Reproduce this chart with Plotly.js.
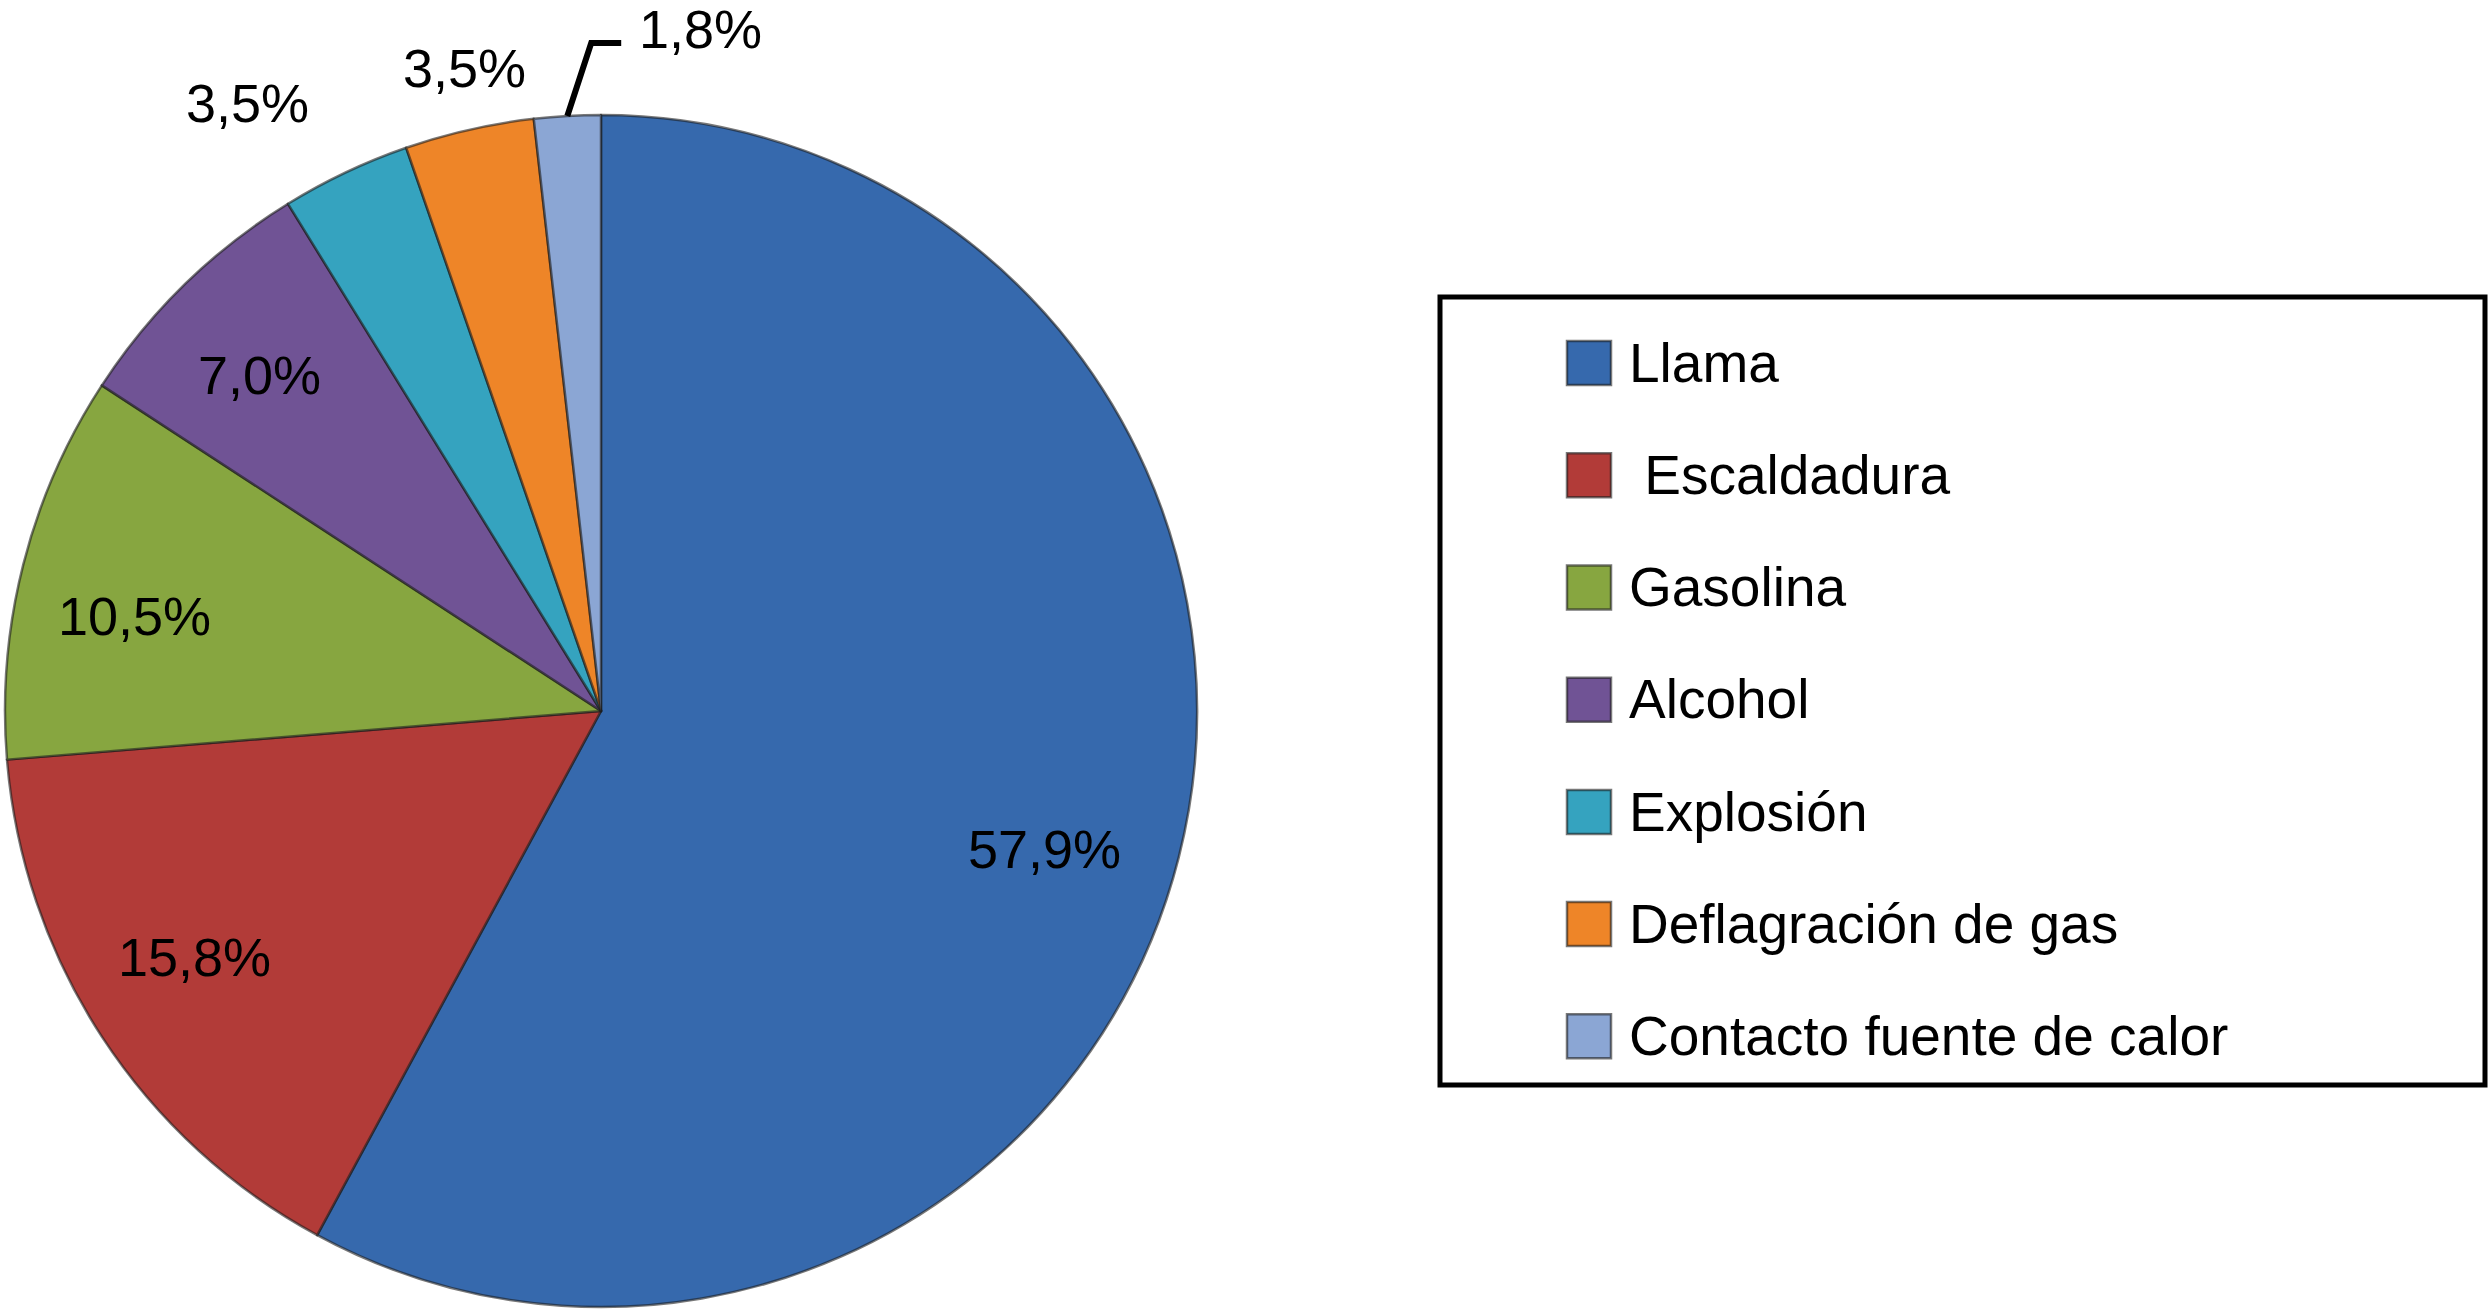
<!DOCTYPE html>
<html>
<head>
<meta charset="utf-8">
<script src="https://cdn.plot.ly/plotly-3.0.1.min.js"></script>
<style>
html,body{margin:0;padding:0;background:#ffffff;}
#chart{width:2490px;height:1313px;}
</style>
</head>
<body>
<div id="chart"></div>
<script>
// ---- data ----
const categories = ["Llama", "\u00a0Escaldadura", "Gasolina", "Alcohol", "Explosión", "Deflagración de gas", "Contacto fuente de calor"];
const percentages = [57.9, 15.8, 10.5, 7.0, 3.5, 3.5, 1.8];
const sliceColors = ["#3669ad", "#b23b38", "#87a640", "#705395", "#35a3bf", "#ee8528", "#8ba6d4"];

// ---- style / layout constants ----
const W = 2490, H = 1313;
const cx = 601, cy = 711, R = 596;           // pie centre and radius in px
const labelRadius = [0.780, 0.798, 0.798, 0.804, 1.180, 1.103, 1.157];
const labelAngleShift = [3.1, 1.95, -2.7, -1.2, -4.8, 0.8, 11.5];
const labelFont = {family: "Liberation Sans, Arial, sans-serif", size: 54, color: "#000000"};

const fmt = v => v.toFixed(1).replace(".", ",") + "%";
const toPaper = (px, py) => [px / W, 1 - py / H];

// mid angles (degrees clockwise from 12 o'clock) from the data
const total = percentages.reduce((a, b) => a + b, 0);
let cum = 0;
const midAngles = percentages.map(v => { const m = (cum + v / 2) / total * 360; cum += v; return m; });

const polar = (angDeg, rf) => {
  const a = angDeg * Math.PI / 180;
  return [cx + rf * R * Math.sin(a), cy - rf * R * Math.cos(a)];
};

const annotations = percentages.map((v, i) => {
  const [px, py] = polar(midAngles[i] + labelAngleShift[i], labelRadius[i]);
  const [x, y] = toPaper(px, py);
  return {x: x, y: y, xref: "paper", yref: "paper", text: fmt(v), showarrow: false,
          xanchor: "center", yanchor: "middle", font: labelFont};
});

// leader line for the smallest slice
const last = percentages.length - 1;
const p0 = polar(midAngles[last], 1.0);
const p1 = polar(midAngles[last] + 2.4, 1.121);
const p2 = [p1[0] + 30, p1[1]];
const q0 = toPaper(p0[0], p0[1]), q1 = toPaper(p1[0], p1[1]), q2 = toPaper(p2[0], p2[1]);

const shapes = [
  {type: "path", xref: "paper", yref: "paper",
   path: `M${q0[0]},${q0[1]} L${q1[0]},${q1[1]} L${q2[0]},${q2[1]}`,
   line: {color: "#000000", width: 6}},
  {type: "rect", xref: "paper", yref: "paper",
   x0: 1440 / W, x1: 2485 / W, y0: 1 - 1085 / H, y1: 1 - 297 / H,
   line: {color: "#000000", width: 5}, fillcolor: "rgba(0,0,0,0)"}
];

const data = [{
  type: "pie",
  labels: categories.map(c => `<span style="font-size:55px">${c}</span>`),
  values: percentages,
  sort: false,
  direction: "clockwise",
  rotation: 0,
  textinfo: "none",
  hoverinfo: "label+percent",
  marker: {colors: sliceColors, line: {color: "rgba(30,30,30,0.6)", width: 2.5}},
  domain: {x: [(cx - R) / W, (cx + R) / W], y: [1 - (cy + R) / H, 1 - (cy - R) / H]}
}];

const layout = {
  width: W, height: H,
  margin: {l: 0, r: 0, t: 0, b: 0},
  paper_bgcolor: "#ffffff",
  showlegend: true,
  legend: {
    x: 1549 / W, y: 1 - 288 / H, xanchor: "left", yanchor: "top",
    font: {family: "Liberation Sans, Arial, sans-serif", size: 84, color: "#000000"},
    itemwidth: 70, bgcolor: "rgba(0,0,0,0)", borderwidth: 0, traceorder: "normal"
  },
  annotations: annotations,
  shapes: shapes
};

Plotly.newPlot("chart", data, layout, {staticPlot: true, displayModeBar: false}).then(gd => {
  gd.querySelectorAll("path.legendpie").forEach(p => {
    p.setAttribute("d", "M22,22H-22V-22H22Z");
    p.setAttribute("transform", "translate(40,14)");
  });
});
</script>
</body>
</html>
